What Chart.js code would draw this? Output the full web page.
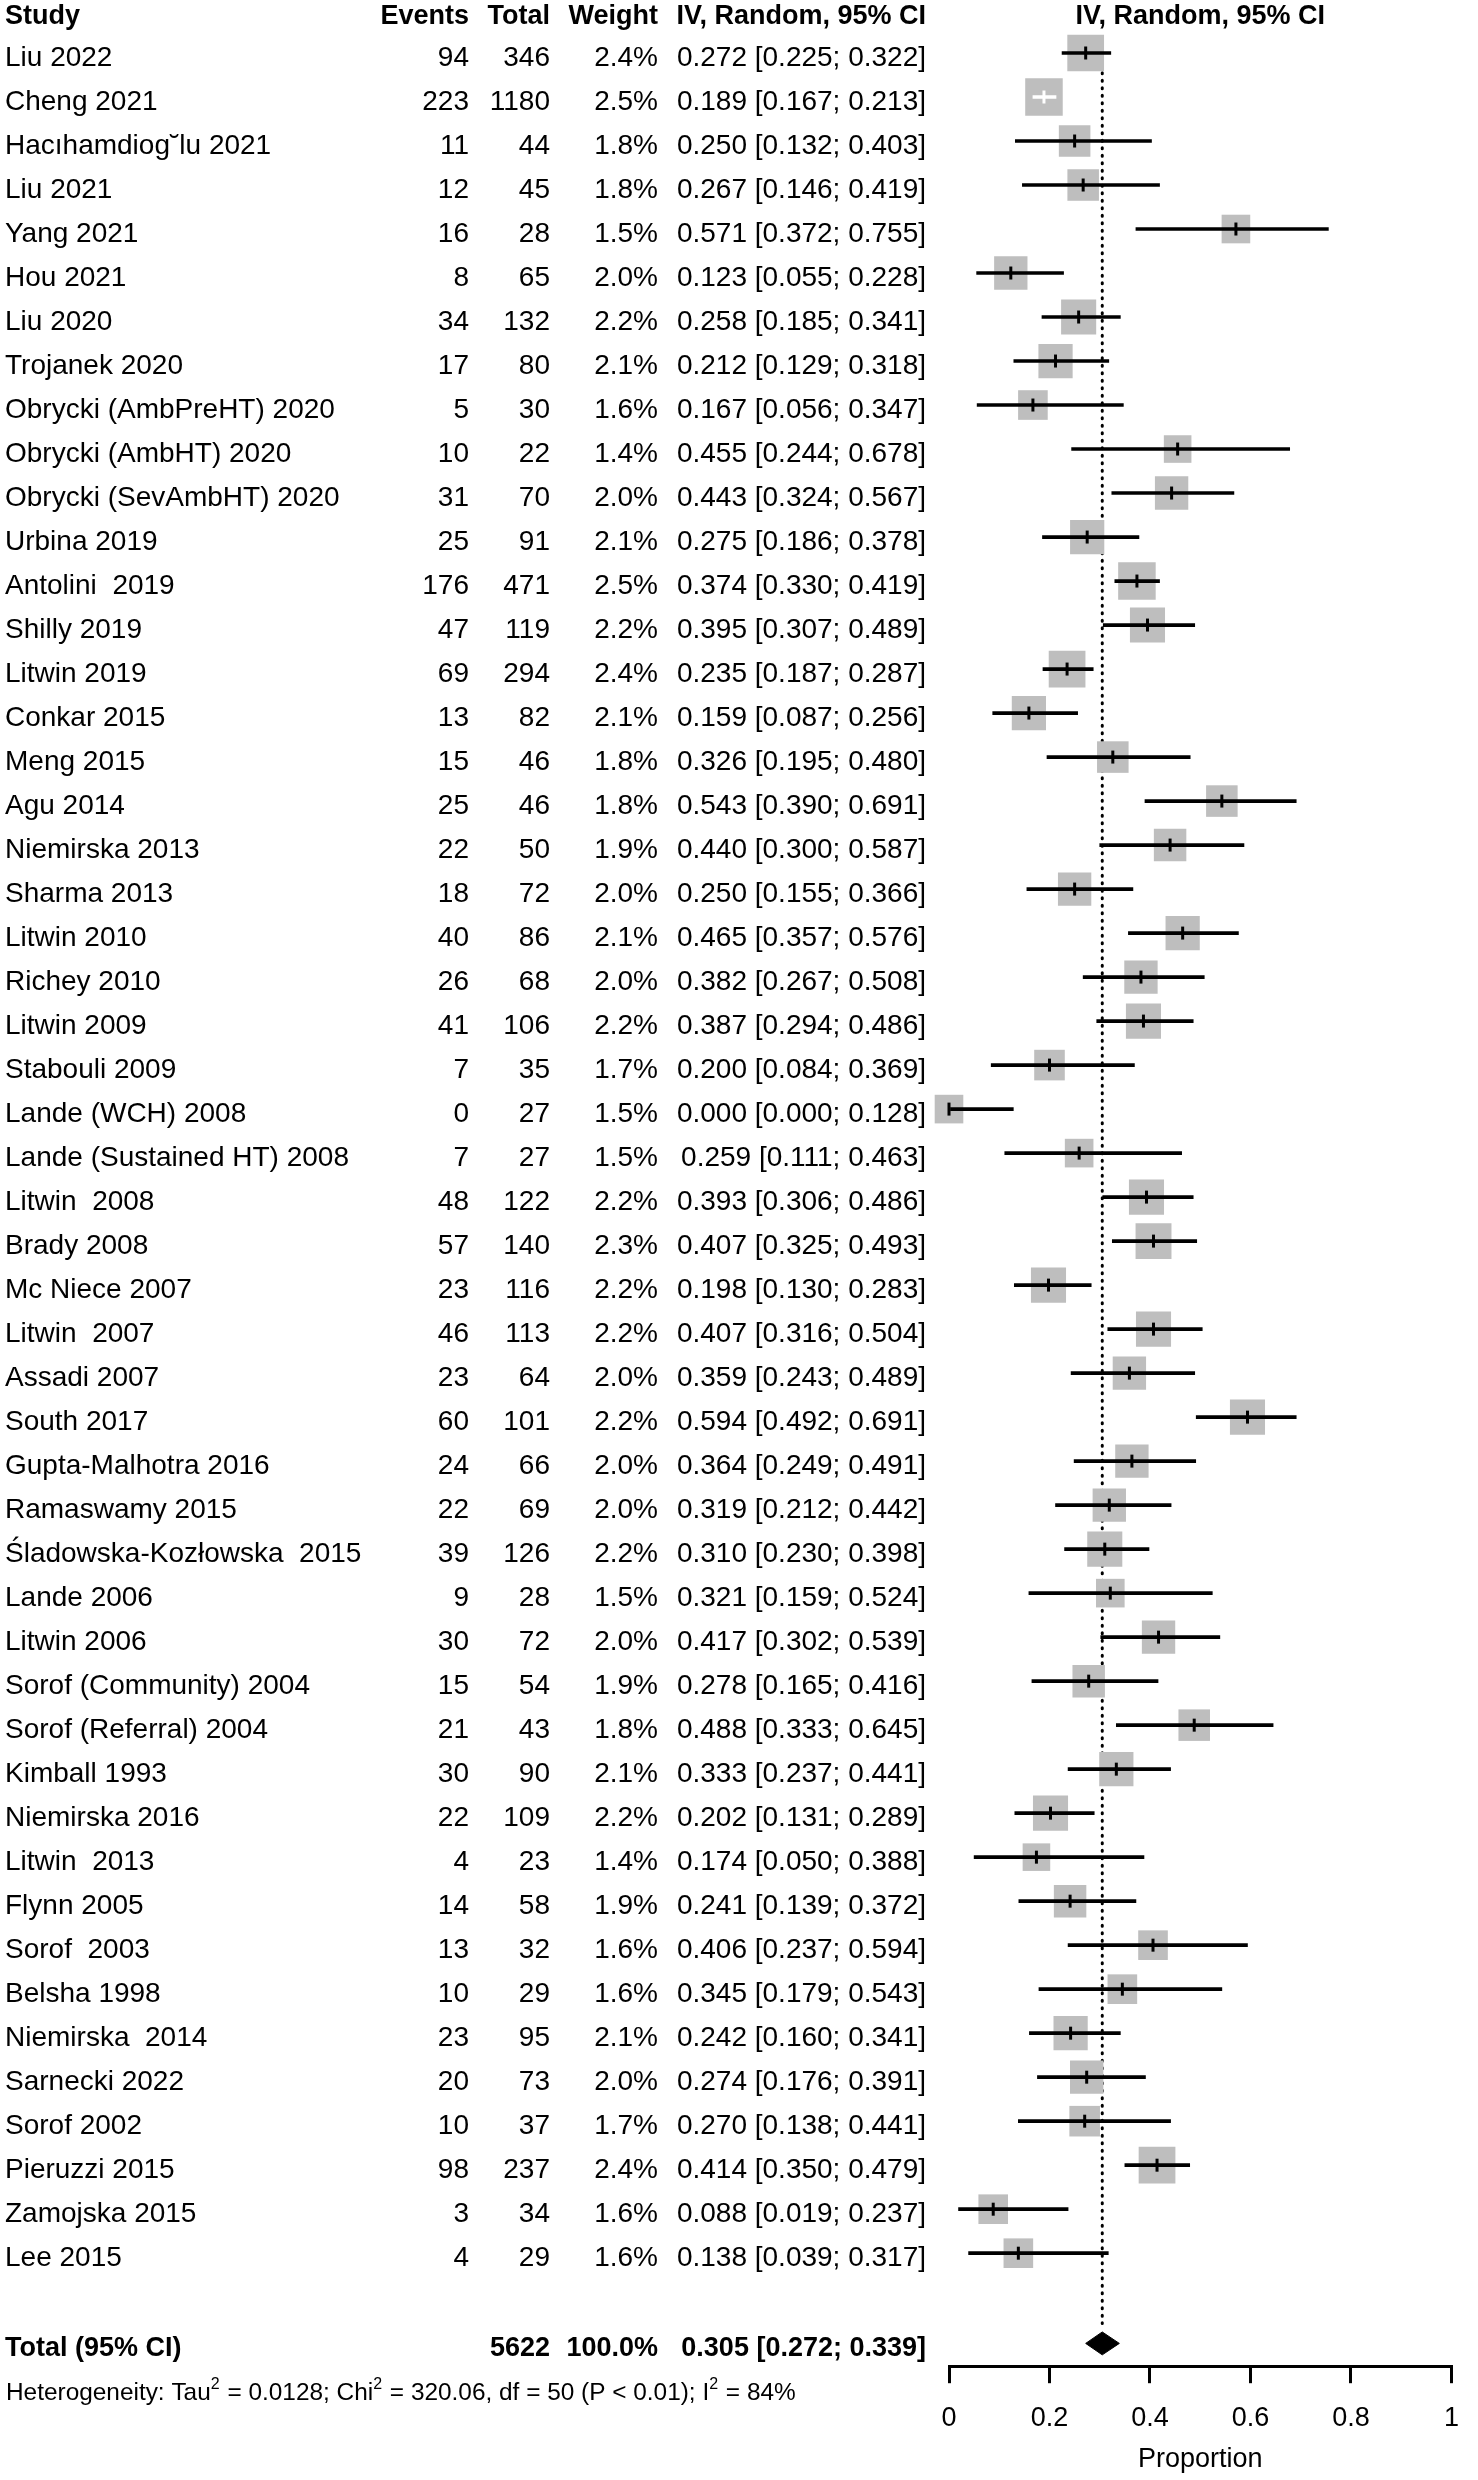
<!DOCTYPE html>
<html>
<head>
<meta charset="utf-8">
<title>Forest plot - proportion</title>
<script src="https://cdn.jsdelivr.net/npm/chart.js@4.4.1/dist/chart.umd.min.js"></script>
<style>
  html, body { margin: 0; padding: 0; background: #fff; }
  #wrap { width: 1478px; height: 2480px; }
</style>
</head>
<body>
<div id="wrap"><canvas id="forest" width="1478" height="2480"></canvas></div>
<script>
var studies = [
  'Liu 2022', 'Cheng 2021', 'Hac\u0131hamdiog\u02D8lu 2021', 'Liu 2021', 'Yang 2021', 'Hou 2021',
  'Liu 2020', 'Trojanek 2020', 'Obrycki (AmbPreHT) 2020', 'Obrycki (AmbHT) 2020',
  'Obrycki (SevAmbHT) 2020', 'Urbina 2019', 'Antolini  2019', 'Shilly 2019', 'Litwin 2019',
  'Conkar 2015', 'Meng 2015', 'Agu 2014', 'Niemirska 2013', 'Sharma 2013', 'Litwin 2010',
  'Richey 2010', 'Litwin 2009', 'Stabouli 2009', 'Lande (WCH) 2008', 'Lande (Sustained HT) 2008',
  'Litwin  2008', 'Brady 2008', 'Mc Niece 2007', 'Litwin  2007', 'Assadi 2007', 'South 2017',
  'Gupta-Malhotra 2016', 'Ramaswamy 2015', '\u015Aladowska-Koz\u0142owska  2015', 'Lande 2006',
  'Litwin 2006', 'Sorof (Community) 2004', 'Sorof (Referral) 2004', 'Kimball 1993',
  'Niemirska 2016', 'Litwin  2013', 'Flynn 2005', 'Sorof  2003', 'Belsha 1998',
  'Niemirska  2014', 'Sarnecki 2022', 'Sorof 2002', 'Pieruzzi 2015', 'Zamojska 2015', 'Lee 2015'
];
var events = [94, 223, 11, 12, 16, 8, 34, 17, 5, 10, 31, 25, 176, 47, 69, 13, 15, 25, 22, 18, 40,
  26, 41, 7, 0, 7, 48, 57, 23, 46, 23, 60, 24, 22, 39, 9, 30, 15, 21, 30, 22, 4, 14, 13, 10, 23,
  20, 10, 98, 3, 4];
var totals = [346, 1180, 44, 45, 28, 65, 132, 80, 30, 22, 70, 91, 471, 119, 294, 82, 46, 46, 50,
  72, 86, 68, 106, 35, 27, 27, 122, 140, 116, 113, 64, 101, 66, 69, 126, 28, 72, 54, 43, 90, 109,
  23, 58, 32, 29, 95, 73, 37, 237, 34, 29];
var weights = [2.4, 2.5, 1.8, 1.8, 1.5, 2.0, 2.2, 2.1, 1.6, 1.4, 2.0, 2.1, 2.5, 2.2, 2.4, 2.1, 1.8,
  1.8, 1.9, 2.0, 2.1, 2.0, 2.2, 1.7, 1.5, 1.5, 2.2, 2.3, 2.2, 2.2, 2.0, 2.2, 2.0, 2.0, 2.2, 1.5,
  2.0, 1.9, 1.8, 2.1, 2.2, 1.4, 1.9, 1.6, 1.6, 2.1, 2.0, 1.7, 2.4, 1.6, 1.6];
var est = [0.272, 0.189, 0.250, 0.267, 0.571, 0.123, 0.258, 0.212, 0.167, 0.455, 0.443, 0.275,
  0.374, 0.395, 0.235, 0.159, 0.326, 0.543, 0.440, 0.250, 0.465, 0.382, 0.387, 0.200, 0.000,
  0.259, 0.393, 0.407, 0.198, 0.407, 0.359, 0.594, 0.364, 0.319, 0.310, 0.321, 0.417, 0.278,
  0.488, 0.333, 0.202, 0.174, 0.241, 0.406, 0.345, 0.242, 0.274, 0.270, 0.414, 0.088, 0.138];
var lower = [0.225, 0.167, 0.132, 0.146, 0.372, 0.055, 0.185, 0.129, 0.056, 0.244, 0.324, 0.186,
  0.330, 0.307, 0.187, 0.087, 0.195, 0.390, 0.300, 0.155, 0.357, 0.267, 0.294, 0.084, 0.000,
  0.111, 0.306, 0.325, 0.130, 0.316, 0.243, 0.492, 0.249, 0.212, 0.230, 0.159, 0.302, 0.165,
  0.333, 0.237, 0.131, 0.050, 0.139, 0.237, 0.179, 0.160, 0.176, 0.138, 0.350, 0.019, 0.039];
var upper = [0.322, 0.213, 0.403, 0.419, 0.755, 0.228, 0.341, 0.318, 0.347, 0.678, 0.567, 0.378,
  0.419, 0.489, 0.287, 0.256, 0.480, 0.691, 0.587, 0.366, 0.576, 0.508, 0.486, 0.369, 0.128,
  0.463, 0.486, 0.493, 0.283, 0.504, 0.489, 0.691, 0.491, 0.442, 0.398, 0.524, 0.539, 0.416,
  0.645, 0.441, 0.289, 0.388, 0.372, 0.594, 0.543, 0.341, 0.391, 0.441, 0.479, 0.237, 0.317];

// pooled random-effects result
var pooled = [0.305, 0.272, 0.339];
var pooledN = 5622;
var pooledWeight = 100.0;
var tau2 = '0.0128', chi2 = '320.06', hetDf = 50, hetP = '< 0.01', i2 = 84;

var tickValues = [0, 0.2, 0.4, 0.6, 0.8, 1];
var tickLabels = ['0', '0.2', '0.4', '0.6', '0.8', '1'];

var FONT = '"Liberation Sans", Arial, Helvetica, sans-serif';
var TOTAL_ROW = 52.05;
var COL = { events: 469, total: 550, weight: 658, ci: 926 };

function boxSide(w) { return 25 * Math.sqrt(w) - 2; }
function ciText(e, l, h) { return e.toFixed(3) + ' [' + l.toFixed(3) + '; ' + h.toFixed(3) + ']'; }

// CI drawn white when it fits inside its own square
function inkFor(chart, i) {
  var xs = chart.scales.x;
  var w = xs.getPixelForValue(upper[i]) - xs.getPixelForValue(lower[i]);
  return w < boxSide(weights[i]) ? '#ffffff' : '#000000';
}

var tablePlugin = {
  id: 'forestTable',
  afterDraw: function(chart) {
    var ctx = chart.ctx, ys = chart.scales.y, xs = chart.scales.x;
    ctx.save();
    ctx.fillStyle = '#000';
    ctx.textBaseline = 'alphabetic';

    // headers
    var hy = ys.getPixelForValue(-1) + 15;
    ctx.font = 'bold 27px ' + FONT;
    ctx.textAlign = 'left';
    ctx.fillText('Study', 5, hy);
    ctx.textAlign = 'right';
    ctx.fillText('Events', COL.events, hy);
    ctx.fillText('Total', COL.total, hy);
    ctx.fillText('Weight', COL.weight, hy);
    ctx.fillText('IV, Random, 95% CI', COL.ci, hy);
    ctx.textAlign = 'center';
    ctx.fillText('IV, Random, 95% CI', xs.getPixelForValue(0.5), hy);

    // study rows
    ctx.font = '28px ' + FONT;
    studies.forEach(function(s, i) {
      var y = ys.getPixelForValue(i) + 13;
      ctx.textAlign = 'left';
      ctx.fillText(s, 5, y);
      ctx.textAlign = 'right';
      ctx.fillText(String(events[i]), COL.events, y);
      ctx.fillText(String(totals[i]), COL.total, y);
      ctx.fillText(weights[i].toFixed(1) + '%', COL.weight, y);
      ctx.fillText(ciText(est[i], lower[i], upper[i]), COL.ci, y);
    });

    // total row
    var ty = ys.getPixelForValue(TOTAL_ROW) + 13;
    ctx.font = 'bold 27px ' + FONT;
    ctx.textAlign = 'left';
    ctx.fillText('Total (95% CI)', 5, ty);
    ctx.textAlign = 'right';
    ctx.fillText(String(pooledN), COL.total, ty);
    ctx.fillText(pooledWeight.toFixed(1) + '%', COL.weight, ty);
    ctx.fillText(ciText(pooled[0], pooled[1], pooled[2]), COL.ci, ty);

    // heterogeneity line with superscripts
    var parts = [
      ['Heterogeneity: Tau', 0], ['2', 1], [' = ' + tau2 + '; Chi', 0], ['2', 1],
      [' = ' + chi2 + ', df = ' + hetDf + ' (P ' + hetP + '); I', 0], ['2', 1], [' = ' + i2 + '%', 0]
    ];
    var hx = 6, hyy = ty + 44;
    ctx.textAlign = 'left';
    parts.forEach(function(p) {
      ctx.font = (p[1] ? '16px ' : '24.4px ') + FONT;
      ctx.fillText(p[0], hx, p[1] ? hyy - 11 : hyy);
      hx += ctx.measureText(p[0]).width + (p[1] ? 1 : 0);
    });
    ctx.restore();
  }
};

var boxData = studies.map(function(s, i) { return { x: est[i], y: i }; });
var ciData = studies.map(function(s, i) { return { x: [lower[i], upper[i]], y: i }; });

new Chart(document.getElementById('forest'), {
  type: 'scatter',
  data: {
    datasets: [
      {
        label: 'estimate',
        data: boxData,
        order: 0,
        pointStyle: 'line',
        rotation: 90,
        pointRadius: 6.5,
        borderWidth: 3,
        borderColor: function(c) { return inkFor(c.chart, c.dataIndex); },
        clip: false
      },
      {
        type: 'bar',
        label: 'ci',
        indexAxis: 'y',
        data: ciData,
        order: 1,
        barThickness: 3,
        borderWidth: 0,
        backgroundColor: function(c) { return inkFor(c.chart, c.dataIndex); }
      },
      {
        label: 'weight',
        data: boxData,
        order: 2,
        pointStyle: 'rect',
        pointRadius: function(c) { return boxSide(weights[c.dataIndex]) / Math.SQRT2; },
        backgroundColor: '#bebebe',
        borderWidth: 0,
        clip: false
      },
      {
        type: 'line',
        label: 'pooled line',
        data: [{ x: pooled[0], y: 0.45 }, { x: pooled[0], y: 51.6 }],
        order: 3,
        borderColor: '#000',
        borderWidth: 3,
        borderDash: [1, 6.5],
        borderCapStyle: 'round',
        pointRadius: 0,
        fill: false
      },
      {
        type: 'line',
        label: 'pooled',
        data: [
          { x: pooled[1], y: TOTAL_ROW }, { x: pooled[0], y: TOTAL_ROW - 0.26 },
          { x: pooled[2], y: TOTAL_ROW }, { x: pooled[0], y: TOTAL_ROW + 0.26 },
          { x: pooled[1], y: TOTAL_ROW }
        ],
        order: 0,
        borderColor: '#000',
        backgroundColor: '#000',
        borderWidth: 1,
        pointRadius: 0,
        tension: 0,
        fill: 'shape'
      }
    ]
  },
  options: {
    responsive: false,
    animation: false,
    devicePixelRatio: 1,
    events: [],
    layout: { autoPadding: false, padding: { left: 949, right: 10, top: 9, bottom: 4 } },
    plugins: { legend: { display: false }, tooltip: { enabled: false } },
    scales: {
      x: {
        type: 'linear',
        min: 0,
        max: 1,
        offset: false,
        afterBuildTicks: function(scale) {
          scale.ticks = tickValues.map(function(v) { return { value: v }; });
        },
        border: { display: true, color: '#000', width: 3 },
        grid: { display: true, drawOnChartArea: false, drawTicks: true, tickLength: 17,
                color: '#000', lineWidth: 3, offset: false },
        ticks: {
          color: '#000', font: { family: FONT, size: 27 }, padding: 19,
          maxRotation: 0, autoSkip: false,
          callback: function(v, idx) { return tickLabels[idx]; }
        },
        title: { display: true, text: 'Proportion', color: '#000',
                 font: { family: FONT, size: 27 }, padding: { top: -10, bottom: 0 } }
      },
      y: {
        type: 'linear',
        display: false,
        reverse: true,
        offset: false,
        min: -1,
        max: 52.568,
        grid: { offset: false }
      }
    }
  },
  plugins: [tablePlugin]
});
</script>
</body>
</html>
